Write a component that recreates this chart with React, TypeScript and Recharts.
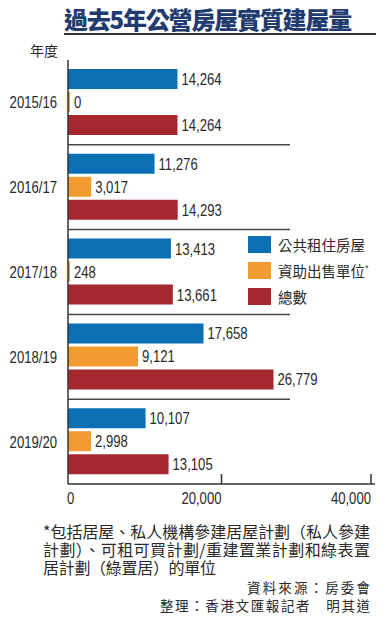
import React from 'react';
import { BarChart, Bar, XAxis, YAxis, LabelList, Legend } from 'recharts';

const years = ['2015/16', '2016/17', '2017/18', '2018/19', '2019/20'];
const publicRental = [14264, 11276, 13413, 17658, 10107];
const subsidisedSale = [0, 3017, 248, 9121, 2998];
const totals = [14264, 14293, 13661, 26779, 13105];
const xTicks = [0, 20000, 40000];

const SERIES = [
  { key: 'rental', label: '公共租住房屋', mark: '', color: '#0a6fb3' },
  { key: 'sale', label: '資助出售單位', mark: '*', color: '#f29b30' },
  { key: 'total', label: '總數', mark: '', color: '#a6282f' },
];

const footnoteLines = [
  '*包括居屋、私人機構參建居屋計劃（私人參建',
  '計劃）、可租可買計劃/重建置業計劃和綠表置',
  '居計劃（綠置居）的單位',
];
const sourceLines = ['資料來源：房委會', '整理：香港文匯報記者　明其道'];

const data = years.map((year, i) => ({
  year,
  rental: publicRental[i],
  sale: subsidisedSale[i],
  total: totals[i],
}));

const SANS = "'Liberation Sans', Arial, sans-serif";
const CJK = "'Noto Sans CJK TC', 'Noto Sans CJK SC', sans-serif";

const CHART_W = 391;
const CHART_H = 520;
const MARGIN = { top: 60, right: 16, bottom: 6, left: 0 };
const X_AXIS_H = 30;
const BAND = (CHART_H - MARGIN.top - MARGIN.bottom - X_AXIS_H) / years.length;

// no condensed face installed, so squeeze Liberation Sans horizontally
const NarrowText = ({ x, y, anchor = 'start', children }: any) => (
  <text
    transform={`translate(${x},${y}) scale(0.82,1)`}
    textAnchor={anchor}
    fontSize={16}
    fontFamily={SANS}
    fill="#2a2a2a"
  >
    {children}
  </text>
);

const YearTick = (props: any) => {
  const { x, y, payload, index } = props;
  return (
    <g>
      <NarrowText x={x - 11} y={y + 6} anchor="end">
        {payload.value}
      </NarrowText>
      {index < years.length - 1 && (
        <line x1={x} x2={x + 222} y1={y + BAND / 2} y2={y + BAND / 2} stroke="#444" strokeWidth={1.5} />
      )}
    </g>
  );
};

const ValueTick = (props: any) => {
  const { x, y, payload } = props;
  const zero = payload.value === 0;
  return (
    <g>
      {!zero && <line x1={x} x2={x} y1={y} y2={y - 10} stroke="#333" strokeWidth={1.5} />}
      <NarrowText x={zero ? x - 1 : x} y={y + 20} anchor={zero ? 'start' : 'end'}>
        {payload.value.toLocaleString('en-US')}
      </NarrowText>
    </g>
  );
};

const BarValue = (props: any) => {
  const { x, y, width, height, value } = props;
  return (
    <NarrowText x={x + width + 4} y={y + height / 2 + 6}>
      {Number(value).toLocaleString('en-US')}
    </NarrowText>
  );
};

const renderLegend = () => (
  <div style={{ fontFamily: CJK }}>
    {SERIES.map((s) => (
      <div key={s.key} style={{ display: 'flex', alignItems: 'center', height: 17, marginBottom: 9 }}>
        <span style={{ width: 23, height: 17, background: s.color, marginRight: 7, flexShrink: 0 }} />
        <span style={{ fontSize: 14.5, color: '#2a2a2a', whiteSpace: 'nowrap' }}>
          {s.label}
          {s.mark && <sup style={{ fontSize: 9, fontFamily: SANS }}>{s.mark}</sup>}
        </span>
      </div>
    ))}
  </div>
);

// svg text stretched to a fixed span
const SpanText = ({ x, y, len, size, children }: any) => (
  <text
    x={x}
    y={y}
    fontSize={size}
    fontFamily={CJK}
    fill="#2a2a2a"
    textLength={len}
    lengthAdjust="spacing"
  >
    {children}
  </text>
);

export default function App() {
  return (
    <div style={{ position: 'relative', width: 391, height: 621, background: '#fff', overflow: 'hidden' }}>
      <style>{'body{margin:0}'}</style>
      <div
        style={{
          position: 'absolute',
          left: 64,
          top: 5,
          fontFamily: CJK,
          fontSize: 24,
          lineHeight: '28px',
          fontWeight: 900,
          letterSpacing: -1.2,
          color: '#1f3b6f',
          whiteSpace: 'nowrap',
        }}
      >
        過去5年公營房屋實質建屋量
      </div>
      <div style={{ position: 'absolute', left: 64, top: 33, width: 312, height: 2, background: '#333' }} />
      <div
        style={{
          position: 'absolute',
          left: 30,
          top: 42,
          fontFamily: CJK,
          fontSize: 14,
          lineHeight: '17px',
          color: '#2a2a2a',
        }}
      >
        年度
      </div>

      <div style={{ position: 'absolute', left: 0, top: 0 }}>
        <BarChart
          width={CHART_W}
          height={CHART_H}
          data={data}
          layout="vertical"
          margin={MARGIN}
          barSize={20}
          barGap={3}
        >
          <XAxis
            type="number"
            domain={[0, 40000]}
            ticks={xTicks}
            height={X_AXIS_H}
            tickSize={0}
            tickMargin={0}
            tick={<ValueTick />}
            axisLine={{ stroke: '#333', strokeWidth: 1.5 }}
          />
          <YAxis
            type="category"
            dataKey="year"
            width={68}
            tickSize={0}
            tickMargin={0}
            tick={<YearTick />}
            axisLine={{ stroke: '#333', strokeWidth: 1.5 }}
          />
          <Legend
            layout="vertical"
            align="center"
            verticalAlign="middle"
            content={renderLegend}
            wrapperStyle={{ left: 248, top: 236, width: 140 }}
          />
          {SERIES.map((s) => (
            <Bar key={s.key} dataKey={s.key} fill={s.color} minPointSize={2} isAnimationActive={false}>
              <LabelList dataKey={s.key} content={<BarValue />} />
            </Bar>
          ))}
        </BarChart>
      </div>

      <svg width={391} height={101} style={{ position: 'absolute', left: 0, top: 520 }}>
        <SpanText x={43} y={18} len={327} size={16}>{footnoteLines[0]}</SpanText>
        <SpanText x={43} y={36} len={327} size={16}>{footnoteLines[1]}</SpanText>
        <SpanText x={43} y={54} len={173} size={16}>{footnoteLines[2]}</SpanText>
        <SpanText x={247} y={73} len={123} size={13.5}>{sourceLines[0]}</SpanText>
        <SpanText x={160} y={91} len={210} size={13.5}>{sourceLines[1]}</SpanText>
      </svg>
    </div>
  );
}
